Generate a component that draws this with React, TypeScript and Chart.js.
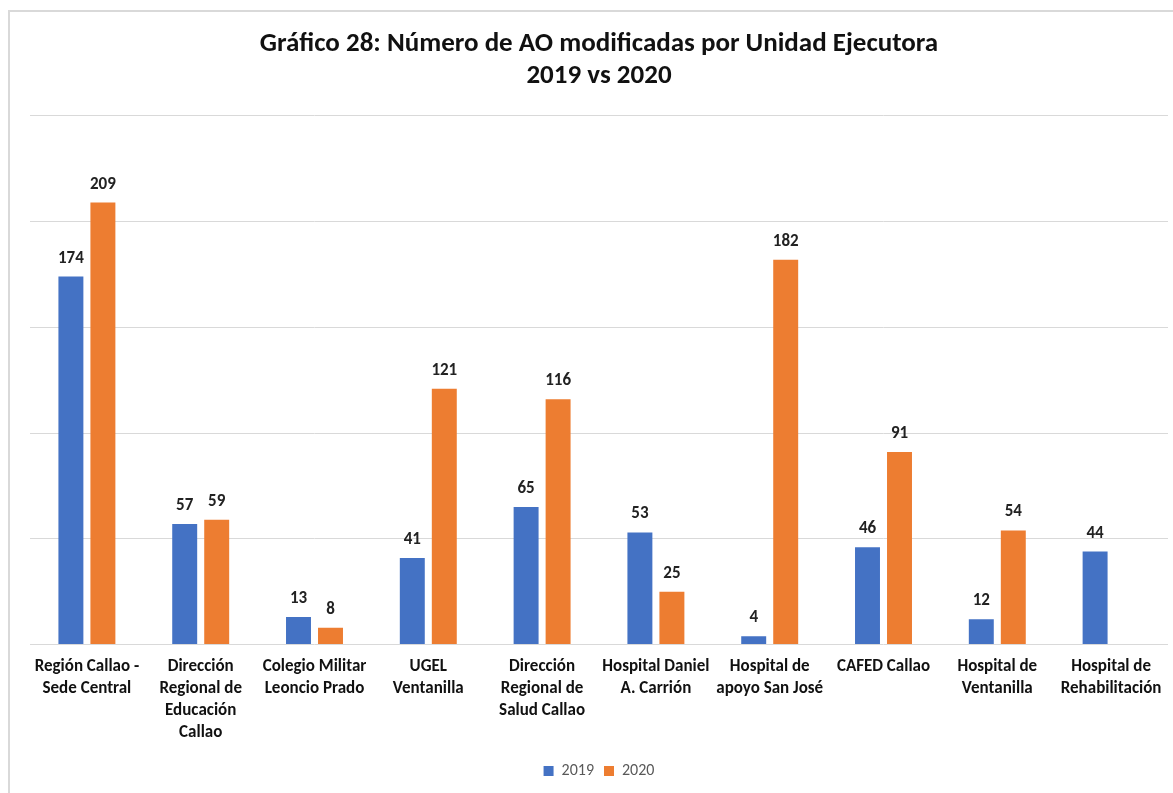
import React, { useEffect, useRef } from "react";
import { Chart, registerables } from "chart.js";

Chart.register(...registerables);

const categories: string[][] = [
  ["Región Callao -", "Sede Central"],
  ["Dirección", "Regional de", "Educación", "Callao"],
  ["Colegio Militar", "Leoncio Prado"],
  ["UGEL", "Ventanilla"],
  ["Dirección", "Regional de", "Salud Callao"],
  ["Hospital Daniel", "A. Carrión"],
  ["Hospital de", "apoyo San José"],
  ["CAFED Callao"],
  ["Hospital de", "Ventanilla"],
  ["Hospital de", "Rehabilitación"],
];

const values2019: (number | null)[] = [174, 57, 13, 41, 65, 53, 4, 46, 12, 44];
const values2020: (number | null)[] = [209, 59, 8, 121, 116, 25, 182, 91, 54, null];

const titleLines = ["Gráfico 28: Número de AO modificadas por Unidad Ejecutora", "2019 vs 2020"];

const FONT = "Carlito, Lato, 'Liberation Sans', sans-serif";

const valueLabels = {
  id: "valueLabels",
  afterDatasetsDraw(chart: any) {
    const ctx = chart.ctx;
    ctx.save();
    ctx.font = `bold 17px ${FONT}`;
    ctx.fillStyle = "#222";
    ctx.textAlign = "center";
    ctx.textBaseline = "alphabetic";
    chart.data.datasets.forEach((ds: any, i: number) => {
      const meta = chart.getDatasetMeta(i);
      meta.data.forEach((bar: any, j: number) => {
        const v = ds.data[j];
        if (v === null || v === undefined) return;
        ctx.fillText(String(v), bar.x, bar.y - 14);
      });
    });
    ctx.restore();
  },
};

export default function App() {
  const ref = useRef<HTMLCanvasElement>(null);
  useEffect(() => {
    if (!ref.current) return;
    const chart = new Chart(ref.current, {
      type: "bar",
      data: {
        labels: categories,
        datasets: [
          { label: "2019", data: values2019, backgroundColor: "#4472C4", categoryPercentage: 0.5624, barPercentage: 0.78 },
          { label: "2020", data: values2020, backgroundColor: "#ED7D31", categoryPercentage: 0.5624, barPercentage: 0.78 },
        ],
      },
      options: {
        animation: false,
        responsive: false,
        layout: { padding: { left: 30, right: 5, top: 28, bottom: 4 } },
        plugins: {
          title: {
            display: true,
            text: titleLines,
            font: { family: FONT, size: 27, weight: "bold", lineHeight: 1.2 },
            color: "#111",
            padding: { top: 0, bottom: 23 },
          },
          legend: {
            position: "bottom",
            labels: {
              font: { family: FONT, size: 16 },
              color: "#595959",
              boxWidth: 10,
              boxHeight: 10,
              padding: 10,
            },
          },
          tooltip: { enabled: false },
        },
        scales: {
          x: {
            grid: { display: false },
            border: { display: false },
            afterFit: (scale: any) => {
              scale.height = scale.height + 6;
            },
            ticks: {
              autoSkip: false,
              maxRotation: 0,
              minRotation: 0,
              color: "#111",
              padding: 3,
              font: { family: FONT, size: 17, weight: "bold", lineHeight: 1.3 },
            },
          },
          y: {
            min: 0,
            max: 250,
            ticks: { display: false, stepSize: 50 },
            grid: { color: "#d9d9d9", lineWidth: 1, drawTicks: false },
            border: { display: false },
          },
        },
      },
      plugins: [valueLabels],
    });
    return () => chart.destroy();
  }, []);

  return (
    <div style={{ position: "fixed", left: 0, top: 0, width: 1173, height: 793, background: "#fff" }}>
      <div
        style={{
          position: "absolute",
          left: 8,
          top: 10,
          width: 1200,
          height: 800,
          borderLeft: "2px solid #d9d9d9",
          borderTop: "2px solid #d9d9d9",
        }}
      />
      <canvas ref={ref} width={1173} height={793} style={{ position: "absolute", left: 0, top: 0 }} />
    </div>
  );
}
